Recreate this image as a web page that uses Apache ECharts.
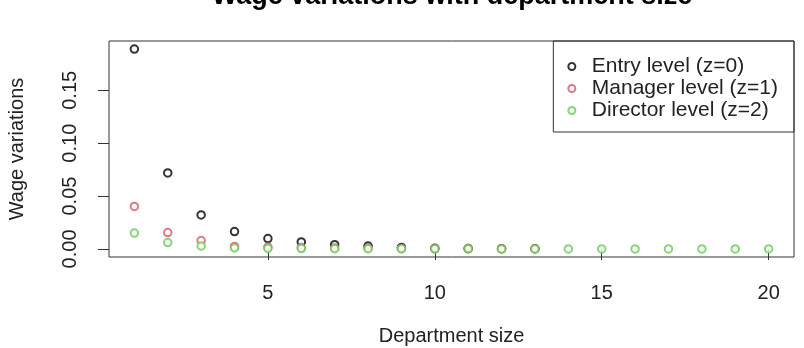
<!DOCTYPE html>
<html>
<head>
<meta charset="utf-8">
<script src="https://cdn.jsdelivr.net/npm/echarts@6/dist/echarts.min.js"></script>
<style>
html, body { margin: 0; padding: 0; background: #fff; }
#chart { width: 804px; height: 348px; }
</style>
</head>
<body>
<div id="chart"></div>
<script>
// department sizes
var sizes = [1, 2, 3, 4, 5, 6, 7, 8, 9, 10, 11, 12, 13, 14, 15, 16, 17, 18, 19, 20];

// wage variations
var entryLevel = [0.189, 0.0719, 0.0322, 0.0164, 0.0098, 0.0066, 0.0040, 0.0028, 0.0014, 0.0006, 0.0004, 0.0003, 0.0002];
var managerLevel = [0.0402, 0.0155, 0.0080, 0.0024, 0.0018, 0.0013, 0.0010, 0.0008, 0.0005, 0.0003, 0.0002, 0.0001, 0.0001];
var directorLevel = [0.0150, 0.0060, 0.0029, 0.0009, 0.0005, 0.0004, 0.0003, 0.0002, 0.0001, 0.0001, 0.0001, 0, 0, 0, 0, 0, 0, 0, 0, 0];

var seriesNames = ['Entry level (z=0)', 'Manager level (z=1)', 'Director level (z=2)'];
var xTicks = [5, 10, 15, 20];
var yTicks = [0, 0.05, 0.10, 0.15];

var font = 'Liberation Sans, Arial, sans-serif';

function pairs(vals) {
  return vals.map(function (v, i) { return [sizes[i], v]; });
}

var dom = document.getElementById('chart');
var myChart = echarts.init(dom, null, { renderer: 'canvas' });

var option = {
  animation: false,
  title: {
    text: 'Wage variations with department size',
    left: 447,
    textAlign: 'center',
    top: -22,
    textStyle: { fontFamily: font, fontSize: 27, fontWeight: 'bold', color: '#000' }
  },
  legend: {
    right: 10,
    top: 41,
    orient: 'vertical',
    data: seriesNames,
    itemWidth: 30,
    itemHeight: 7,
    itemGap: 1,
    padding: [15, 16, 11, 14],
    borderColor: '#333',
    borderWidth: 1,
    textStyle: { fontFamily: font, fontSize: 21, color: '#222' }
  },
  grid: {
    left: 109,
    top: 41,
    right: 10,
    bottom: 91,
    outerBoundsMode: 'none',
    show: true,
    borderColor: '#333',
    borderWidth: 1
  },
  xAxis: {
    type: 'value',
    min: 0.24,
    max: 20.76,
    name: 'Department size',
    nameLocation: 'middle',
    nameGap: 69,
    nameTextStyle: { fontFamily: font, fontSize: 20, color: '#222' },
    splitLine: { show: false },
    axisLine: { show: false },
    axisTick: { show: true, length: 11, customValues: xTicks, lineStyle: { color: '#333' } },
    axisLabel: { customValues: xTicks, margin: 26, fontFamily: font, fontSize: 20, color: '#222' }
  },
  yAxis: {
    type: 'value',
    min: -0.0076,
    max: 0.1966,
    name: 'Wage variations',
    nameLocation: 'middle',
    nameGap: 82,
    nameTextStyle: { fontFamily: font, fontSize: 20, color: '#222' },
    splitLine: { show: false },
    axisLine: { show: false },
    axisTick: { show: true, length: 11, customValues: yTicks, lineStyle: { color: '#333' } },
    axisLabel: {
      customValues: yTicks,
      rotate: 90,
      margin: 29,
      fontFamily: font,
      fontSize: 20,
      color: '#222',
      formatter: function (v) { return v.toFixed(2); }
    }
  },
  series: [
    {
      name: seriesNames[0],
      type: 'scatter',
      symbol: 'emptyCircle',
      symbolSize: 7.5,
      itemStyle: { color: '#000', borderColor: '#000', borderWidth: 1.5 },
      data: pairs(entryLevel)
    },
    {
      name: seriesNames[1],
      type: 'scatter',
      symbol: 'emptyCircle',
      symbolSize: 7.5,
      itemStyle: { color: '#DF536B', borderColor: '#DF536B', borderWidth: 1.5 },
      data: pairs(managerLevel)
    },
    {
      name: seriesNames[2],
      type: 'scatter',
      symbol: 'emptyCircle',
      symbolSize: 7.5,
      itemStyle: { color: '#61D04F', borderColor: '#61D04F', borderWidth: 1.5 },
      data: pairs(directorLevel)
    }
  ]
};

myChart.setOption(option);
window.addEventListener('resize', myChart.resize);
</script>
</body>
</html>
